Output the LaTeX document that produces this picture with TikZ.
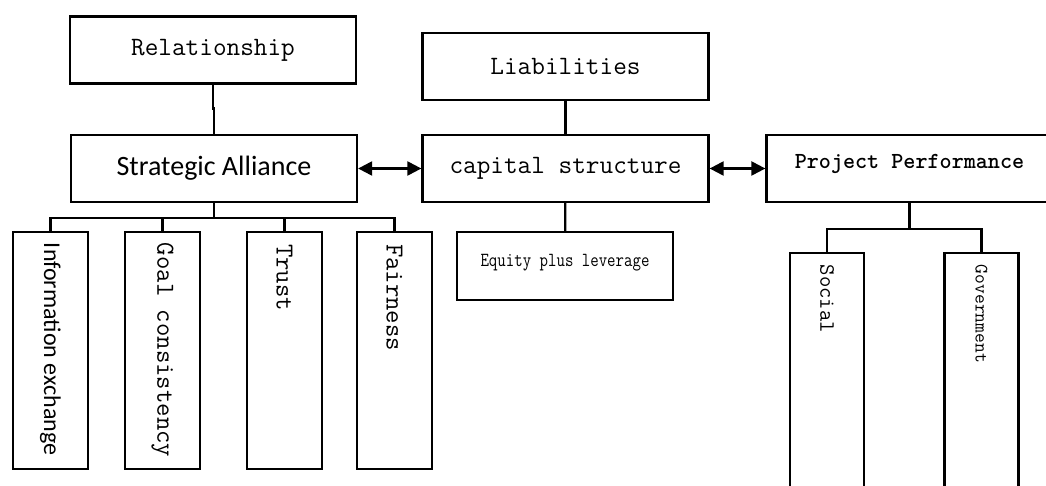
\documentclass[tikz,border=0pt]{standalone}
\usepackage{fontspec}
\usepackage{tikz}
\usetikzlibrary{arrows.meta}
\newfontfamily\calibri{Carlito}

\begin{document}
\begin{tikzpicture}[x=1pt,y=-1pt,line width=2.3pt,
        mono/.style={font=\ttfamily\fontsize{#1}{#1}\selectfont},
        sans/.style={font=\calibri\fontsize{#1}{#1}\selectfont},
        leaf/.style={minimum width=75pt,minimum height=237pt},
        tall/.style={minimum width=74pt,minimum height=250pt}]
    \useasboundingbox (0,0) rectangle (1046,486);
    \clip (0,0) rectangle (1046,486);

    \begin{scope}[every node/.style={draw,inner sep=0pt,minimum width=286pt,minimum height=67pt}]
        \node[mono=26.5] (R)  at (213,50)    {Relationship};
        \node[sans=28]   (SA) at (214,168.5) {Strategic Alliance};
        \node[mono=26.5] (L)  at (565.5,66.5)  {Liabilities};
        \node[mono=26.5] (CS) at (565.5,168.5) {capital structure};
        \node[font={\ttfamily\bfseries\fontsize{23}{23}\selectfont},
              text height=12pt,text depth=12pt] (PP) at (909.5,168.5) {Project Performance};
        \node[mono=20,minimum width=216pt,minimum height=68pt,
              text height=14pt,text depth=14pt] (EL) at (565,266) {\scalebox{0.82}[1]{Equity plus leverage}};
        \node[leaf] (IE) at (50.5,350.5)  {};
        \node[leaf] (GC) at (162.5,350.5) {};
        \node[leaf] (T)  at (284.5,350.5) {};
        \node[leaf] (F)  at (394.5,350.5) {};
        \node[tall] (S)  at (827,378)     {};
        \node[tall] (G)  at (981.5,378)   {};
    \end{scope}

    % vertical texts, read from top to bottom
    \begin{scope}[every node/.style={rotate=-90,anchor=west,inner sep=0pt}]
        \node[sans=24] (IEtext) at ([yshift=-11pt]IE.north) {Information exchange};
        \node[mono=26] (GCtext) at ([yshift=-11pt]GC.north) {Goal consistency};
        \node[mono=26] (Ttext)  at ([yshift=-12pt]T.north)  {Trust};
        \node[mono=26] (Ftext)  at ([yshift=-12pt]F.north)  {Fairness};
        \node[mono=22] (Stext)  at ([yshift=-12pt]S.north)  {Social};
        \node[mono=19] (Gtext)  at ([yshift=-12pt]G.north)  {Government};
    \end{scope}

    \begin{scope}[>={Triangle[length=14pt,width=14pt]}]
        \draw (R.south) -- ++(0,24) -| (SA.north);
        \draw (L) -- (CS);
        \draw[<->] (SA) -- (CS);
        \draw[<->] (CS) -- (PP);
        \draw (CS) -- (EL);
        \draw (SA.south) -- ++(0,15) coordinate (SAbus);
        \draw (SAbus) -| (IE.north);
        \draw (SAbus) -| (GC.north);
        \draw (SAbus) -| (T.north);
        \draw (SAbus) -| (F.north);
        \draw (PP.south) -- ++(0,26) coordinate (PPbus);
        \draw (PPbus) -| (S.north);
        \draw (PPbus) -| (G.north);
    \end{scope}
\end{tikzpicture}
\end{document}
